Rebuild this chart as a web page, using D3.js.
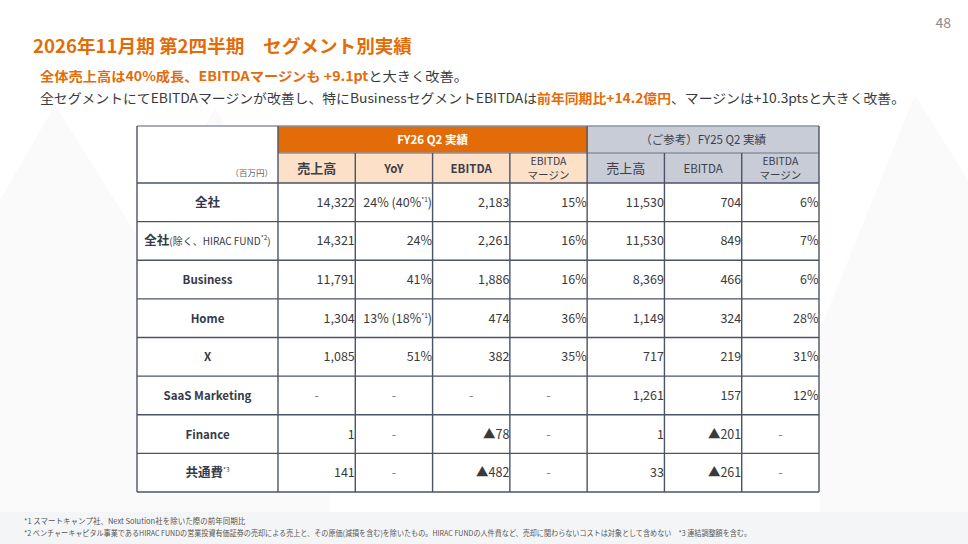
<!DOCTYPE html>
<html>
<head>
<meta charset="utf-8">
<script src="https://cdn.jsdelivr.net/npm/d3@7"></script>
<style>
  body { margin: 0; background: #fff; }
  svg { display: block; font-family: "Noto Sans CJK JP", "Noto Sans", sans-serif; }
</style>
</head>
<body>
<div id="chart"></div>
<script>
// segments (rows)
const segments = ['全社', '全社', 'Business', 'Home', 'X', 'SaaS Marketing', 'Finance', '共通費'];
const segSuffix = ['', '(除く、HIRAC FUND', '', '', '', '', '', ''];
const segSup = ['', '*2', '', '', '', '', '', '*3'];
const segClose = ['', ')', '', '', '', '', '', ''];

// FY26 Q2
const fy26Sales = [14322, 14321, 11791, 1304, 1085, null, 1, 141];
const fy26YoY = [24, 24, 41, 13, 51, null, null, null];
const fy26YoYAdj = [40, null, null, 18, null, null, null, null];
const fy26Ebitda = [2183, 2261, 1886, 474, 382, null, -78, -482];
const fy26Margin = [15, 16, 16, 36, 35, null, null, null];

// FY25 Q2 (reference)
const fy25Sales = [11530, 11530, 8369, 1149, 717, 1261, 1, 33];
const fy25Ebitda = [704, 849, 466, 324, 219, 157, -201, -261];
const fy25Margin = [6, 7, 6, 28, 31, 12, null, null];

// headers
const groupHeaders = ['FY26 Q2 実績', '（ご参考）FY25 Q2 実績'];
const colHeaders = [['売上高'], ['YoY'], ['EBITDA'], ['EBITDA', 'マージン'], ['売上高'], ['EBITDA'], ['EBITDA', 'マージン']];

const width = 968, height = 544;
const orange = '#e36c09', dark = '#3a3a3a', line = '#4d5366';

const svg = d3.select('#chart').append('svg')
  .attr('width', width).attr('height', height);

// faint background shapes
const bg = svg.append('g').attr('fill', '#fafafa');
bg.append('path').attr('d', 'M0,200 L55,105 L140,240 L215,108 L330,300 L330,544 L0,544 Z');
bg.append('path').attr('d', 'M820,330 L915,95 L968,180 L968,544 L820,544 Z');
svg.append('rect').attr('x', 0).attr('y', 512).attr('width', width).attr('height', 32).attr('fill', '#f4f5f6');

// page number
svg.append('text').attr('x', 951).attr('y', 28).attr('text-anchor', 'end')
  .attr('font-size', 14).attr('fill', '#8a8a8a').text('48');

// title
svg.append('text').attr('x', 33).attr('y', 53)
  .attr('font-size', 18).attr('font-weight', 700).attr('fill', orange)
  .attr('textLength', 379).attr('lengthAdjust', 'spacingAndGlyphs')
  .text('2026年11月期 第2四半期　セグメント別実績');

const sub1 = svg.append('text').attr('x', 40).attr('y', 81).attr('font-size', 13)
  .attr('textLength', 428).attr('lengthAdjust', 'spacingAndGlyphs');
sub1.append('tspan').attr('fill', orange).attr('font-weight', 700).text('全体売上高は40%成長、EBITDAマージンも +9.1pt');
sub1.append('tspan').attr('fill', dark).text('と大きく改善。');

const sub2 = svg.append('text').attr('x', 40).attr('y', 103).attr('font-size', 13)
  .attr('textLength', 865).attr('lengthAdjust', 'spacingAndGlyphs');
sub2.append('tspan').attr('fill', dark).text('全セグメントにてEBITDAマージンが改善し、特にBusinessセグメントEBITDAは');
sub2.append('tspan').attr('fill', orange).attr('font-weight', 700).text('前年同期比+14.2億円');
sub2.append('tspan').attr('fill', dark).text('、マージンは+10.3ptsと大きく改善。');

// table geometry
const tLeft = 137, tTop = 126, hMid = 153, hBottom = 183, tBottom = 492, labelRight = 278, tRight = 819;
const x = d3.scaleBand().domain(d3.range(7)).range([labelRight, tRight]);
const y = d3.scaleBand().domain(d3.range(segments.length)).range([hBottom, tBottom]);

const tbl = svg.append('g');

// white background for table
tbl.append('rect').attr('x', tLeft).attr('y', tTop).attr('width', tRight - tLeft).attr('height', tBottom - tTop).attr('fill', '#fff');

// group header fills
tbl.append('rect').attr('x', x(0)).attr('y', tTop).attr('width', x(4) - x(0)).attr('height', hMid - tTop).attr('fill', orange);
tbl.append('rect').attr('x', x(4)).attr('y', tTop).attr('width', tRight - x(4)).attr('height', hMid - tTop).attr('fill', '#c8ccd7');
tbl.selectAll('rect.sub').data(d3.range(7)).join('rect')
  .attr('class', 'sub')
  .attr('x', d => x(d)).attr('y', hMid).attr('width', x.bandwidth()).attr('height', hBottom - hMid)
  .attr('fill', d => d < 4 ? '#fde0c8' : '#c8ccd7');

// group header text
tbl.append('text').attr('x', (x(0) + x(4)) / 2).attr('y', tTop + 18).attr('text-anchor', 'middle')
  .attr('font-size', 11.5).attr('font-weight', 700).attr('fill', '#fff').text(groupHeaders[0]);
tbl.append('text').attr('x', (x(4) + tRight) / 2).attr('y', tTop + 18).attr('text-anchor', 'middle')
  .attr('font-size', 11.5).attr('fill', '#3c3f4a').text(groupHeaders[1]);

// column header text
colHeaders.forEach((lines, i) => {
  const t = tbl.append('text').attr('text-anchor', 'middle').attr('fill', '#3c3f4a')
    .attr('font-weight', i < 4 ? 700 : 400);
  const cx = x(i) + x.bandwidth() / 2;
  if (lines.length === 1) {
    t.attr('x', cx).attr('y', hMid + 20).attr('font-size', i === 0 || i === 4 ? 13 : 11.5).text(lines[0]);
  } else {
    t.attr('font-size', 10.5).attr('font-weight', 400);
    lines.forEach((l, k) => t.append('tspan').attr('x', cx).attr('y', hMid + 12 + k * 14).text(l));
  }
});

tbl.append('text').attr('x', labelRight - 5).attr('y', hBottom - 7).attr('text-anchor', 'end')
  .attr('font-size', 8.5).attr('fill', '#666').text('（百万円）');

// row labels
segments.forEach((s, i) => {
  const cy = y(i) + y.bandwidth() / 2 + 4.5;
  const t = tbl.append('text').attr('x', (tLeft + labelRight) / 2).attr('y', cy)
    .attr('text-anchor', 'middle').attr('fill', '#353a48').attr('font-weight', 700)
    .attr('font-size', /[A-Za-z]/.test(s) ? 11.5 : 12.5);
  t.append('tspan').text(s);
  if (segSuffix[i]) t.append('tspan').attr('font-size', 10).attr('font-weight', 400).text(segSuffix[i]);
  if (segSup[i]) t.append('tspan').attr('font-size', 6.5).attr('dy', -5).attr('font-weight', 400).text(segSup[i]);
  if (segClose[i]) t.append('tspan').attr('font-size', 10).attr('dy', 5).attr('font-weight', 400).text(segClose[i]);
});

// cell values
const fmtNum = v => v < 0 ? '▲' + d3.format(',')(-v) : d3.format(',')(v);
const fmtPct = v => v + '%';
const columns = [
  [fy26Sales, fmtNum], [fy26YoY, fmtPct], [fy26Ebitda, fmtNum], [fy26Margin, fmtPct],
  [fy25Sales, fmtNum], [fy25Ebitda, fmtNum], [fy25Margin, fmtPct]
];

columns.forEach(([vals, fmt], c) => {
  vals.forEach((v, r) => {
    const cy = y(r) + y.bandwidth() / 2 + 4.5;
    const t = tbl.append('text').attr('y', cy).attr('font-size', 12.5).attr('fill', dark);
    if (v === null) {
      t.attr('x', x(c) + x.bandwidth() / 2).attr('text-anchor', 'middle').attr('fill', '#777').text('-');
      return;
    }
    t.attr('x', x(c) + x.bandwidth() - 0.5).attr('text-anchor', 'end');
    t.append('tspan').text(fmt(v));
    if (c === 1 && fy26YoYAdj[r] !== null) {
      t.append('tspan').text(' (' + fy26YoYAdj[r] + '%');
      t.append('tspan').attr('font-size', 6.5).attr('dy', -5).text('*1');
      t.append('tspan').attr('dy', 5).text(')');
    }
  });
});

// grid lines
const g = tbl.append('g').attr('stroke', line).attr('stroke-width', 1.4);
// horizontal
[hBottom, ...d3.range(1, segments.length).map(i => y(i)), tBottom].forEach(yy =>
  g.append('line').attr('x1', tLeft).attr('x2', tRight).attr('y1', yy).attr('y2', yy));
g.append('line').attr('x1', labelRight).attr('x2', tRight).attr('y1', hMid).attr('y2', hMid).attr('stroke', '#8d92a2');
g.append('line').attr('x1', tLeft).attr('x2', tRight).attr('y1', tTop).attr('y2', tTop).attr('stroke', '#8d92a2');
// vertical
g.append('line').attr('x1', tLeft).attr('x2', tLeft).attr('y1', tTop).attr('y2', tBottom);
g.append('line').attr('x1', tRight).attr('x2', tRight).attr('y1', tTop).attr('y2', tBottom);
g.append('line').attr('x1', labelRight).attr('x2', labelRight).attr('y1', tTop).attr('y2', tBottom);
g.append('line').attr('x1', x(4)).attr('x2', x(4)).attr('y1', tTop).attr('y2', tBottom);
d3.range(1, 7).filter(i => i !== 4).forEach(i =>
  g.append('line').attr('x1', x(i)).attr('x2', x(i)).attr('y1', hMid).attr('y2', tBottom));

// footnotes
const notes = svg.append('g').attr('font-size', 7.5).attr('fill', '#555');
notes.append('text').attr('x', 24).attr('y', 524).text('*1 スマートキャンプ社、Next Solution社を除いた際の前年同期比');
notes.append('text').attr('x', 24).attr('y', 536).attr('textLength', 727).attr('lengthAdjust', 'spacingAndGlyphs')
  .text('*2 ベンチャーキャピタル事業であるHIRAC FUNDの営業投資有価証券の売却による売上と、その原価(減損を含む)を除いたもの。HIRAC FUNDの人件費など、売却に関わらないコストは対象として含めない　*3  連結調整額を含む。');
</script>
</body>
</html>
